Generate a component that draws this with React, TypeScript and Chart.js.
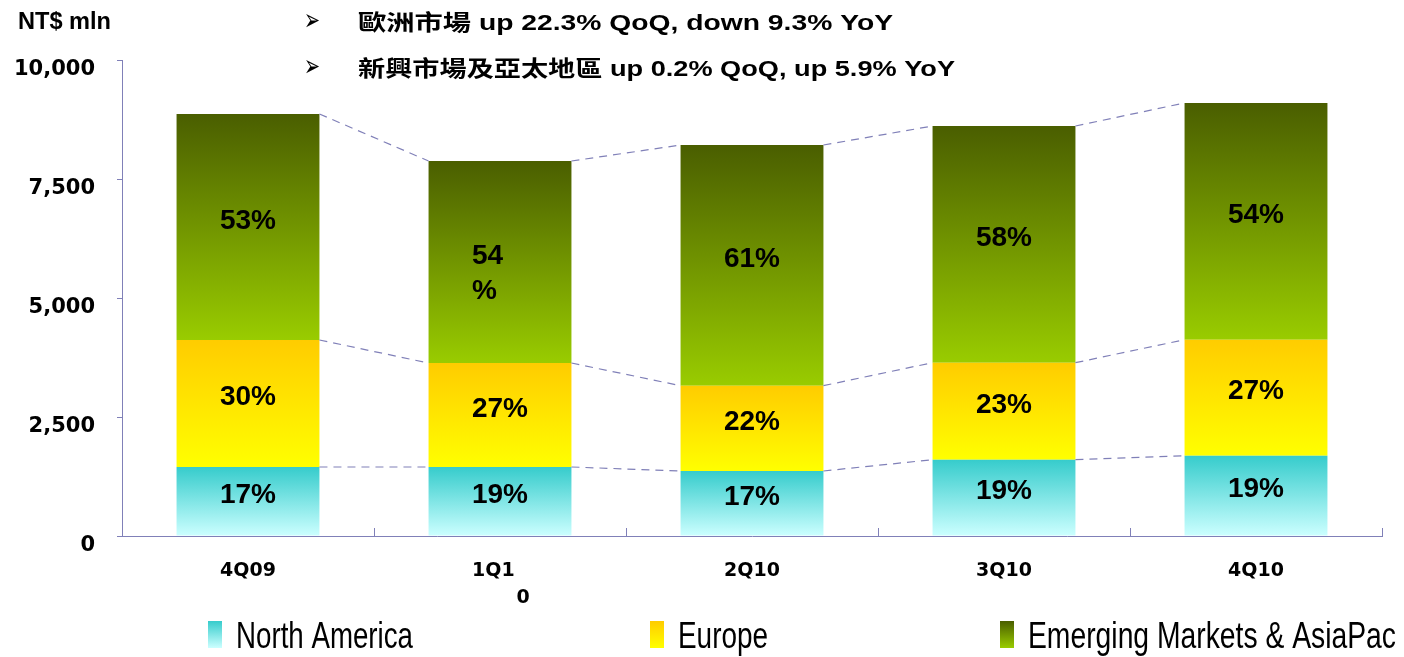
import React, { useEffect, useRef } from "react";
import { Chart, registerables } from "chart.js";

Chart.register(...registerables);

// ---- data ----
const categories = ["4Q09", "1Q10", "2Q10", "3Q10", "4Q10"];
const tickLabels: (string | string[])[] = ["4Q09", ["1Q1  ", "       0"], "2Q10", "3Q10", "4Q10"];
const seriesNames = ["North America", "Europe", "Emerging Markets & AsiaPac"];
const northAmerica = [1450, 1450, 1366, 1603, 1687];
const europe = [2668, 2184, 1792, 2038, 2437];
const emerging = [4748, 4244, 5056, 4972, 4973];
const naPct = ["17%", "19%", "17%", "19%", "19%"];
const euPct = ["30%", "27%", "22%", "23%", "27%"];
const emPct = ["53%", "54\n%", "61%", "58%", "54%"];
const yTicks = [0, 2500, 5000, 7500, 10000];
const unitLabel = "NT$ mln";
const notes = [
  "歐洲市場 up 22.3% QoQ, down 9.3% YoY",
  "新興市場及亞太地區 up 0.2% QoQ, up 5.9% YoY",
];

// ---- styles ----
const AXIS = "#8080b8";
const GRADS = [
  ["#36CCCC", "#CCFFFF"],
  ["#FFCC00", "#FFFF00"],
  ["#4A5E00", "#99CC00"],
];
const PCTS = [naPct, euPct, emPct];

function fitText(ctx: CanvasRenderingContext2D, text: string, x: number, y: number, width: number) {
  const m = ctx.measureText(text).width;
  ctx.save();
  ctx.translate(x, y);
  ctx.scale(width / m, 1);
  ctx.fillText(text, 0, 0);
  ctx.restore();
}

function gradFor(si: number) {
  return (c: any) => {
    const chart = c.chart;
    const ys = chart.scales && chart.scales.y;
    if (c.dataIndex === undefined || !ys || !chart.chartArea) return GRADS[si][0];
    const i = c.dataIndex;
    let base = 0;
    for (let d = 0; d < si; d++) base += chart.data.datasets[d].data[i];
    const top = base + chart.data.datasets[si].data[i];
    const g = chart.ctx.createLinearGradient(0, ys.getPixelForValue(top), 0, ys.getPixelForValue(base));
    g.addColorStop(0, GRADS[si][0]);
    g.addColorStop(1, GRADS[si][1]);
    return g;
  };
}

const connectorPlugin = {
  id: "connectors",
  afterDatasetsDraw(chart: any) {
    const ctx = chart.ctx;
    ctx.save();
    ctx.strokeStyle = AXIS;
    ctx.lineWidth = 1.2;
    ctx.setLineDash([8, 6]);
    chart.data.datasets.forEach((_: any, d: number) => {
      const meta = chart.getDatasetMeta(d);
      for (let i = 0; i < meta.data.length - 1; i++) {
        const a = meta.data[i];
        const b = meta.data[i + 1];
        ctx.beginPath();
        ctx.moveTo(a.x + a.width / 2, a.y);
        ctx.lineTo(b.x - b.width / 2, b.y);
        ctx.stroke();
      }
    });
    ctx.restore();
  },
};

const pctPlugin = {
  id: "pctLabels",
  afterDatasetsDraw(chart: any) {
    const ctx = chart.ctx;
    ctx.save();
    ctx.fillStyle = "#000";
    ctx.font = 'bold 28px "Liberation Sans", Arial, sans-serif';
    ctx.textBaseline = "middle";
    chart.data.datasets.forEach((_: any, d: number) => {
      const meta = chart.getDatasetMeta(d);
      meta.data.forEach((el: any, i: number) => {
        const txt = PCTS[d][i];
        const mid = (el.y + el.base) / 2 - 6;
        const lines = txt.split("\n");
        if (lines.length === 1) {
          ctx.textAlign = "center";
          ctx.fillText(txt, el.x, mid);
        } else {
          const w = ctx.measureText(lines.join("")).width;
          ctx.textAlign = "left";
          const lh = 35;
          lines.forEach((ln: string, k: number) => {
            ctx.fillText(ln, el.x - w / 2, mid + k * lh);
          });
        }
      });
    });
    ctx.restore();
  },
};

const decorPlugin = {
  id: "decor",
  afterDraw(chart: any) {
    const ctx = chart.ctx;
    ctx.save();
    ctx.fillStyle = "#000";
    ctx.textAlign = "left";
    ctx.textBaseline = "alphabetic";
    // unit
    ctx.font = 'bold 23px "Liberation Sans", Arial, sans-serif';
    fitText(ctx, unitLabel, 18, 29, 93);
    // bullets & notes
    const noteY = [30, 76];
    const noteW = [535, 597];
    notes.forEach((n, k) => {
      ctx.font = 'bold 30px "DejaVu Sans", sans-serif';
      fitText(ctx, "➢", 304, noteY[k], 16);
      ctx.font = 'bold 22px "Liberation Sans", "Noto Sans CJK TC", sans-serif';
      fitText(ctx, n, 358, noteY[k], noteW[k]);
    });
    // legend
    const boxX = [208, 650, 1000];
    const textW = [177, 90, 368];
    chart.data.datasets.forEach((ds: any, d: number) => {
      const g = ctx.createLinearGradient(0, 621, 0, 648);
      g.addColorStop(0, GRADS[d][0]);
      g.addColorStop(1, GRADS[d][1]);
      ctx.fillStyle = g;
      ctx.fillRect(boxX[d], 621, 14, 27);
      ctx.fillStyle = "#000";
      ctx.font = '36px "Liberation Sans", Arial, sans-serif';
      fitText(ctx, ds.label, boxX[d] + 28, 648, textW[d]);
    });
    ctx.restore();
  },
};

export default function App() {
  const ref = useRef<HTMLCanvasElement | null>(null);
  useEffect(() => {
    if (!ref.current) return;
    const series = [northAmerica, europe, emerging];
    const chart = new Chart(ref.current, {
      type: "bar",
      data: {
        labels: categories,
        datasets: series.map((s, si) => ({
          label: seriesNames[si],
          data: s,
          backgroundColor: gradFor(si),
          borderWidth: 0,
          categoryPercentage: 1,
          barPercentage: 0.567,
        })),
      },
      options: {
        responsive: false,
        animation: false,
        layout: { padding: { left: 0, top: 60, right: 22, bottom: 0 } },
        plugins: { legend: { display: false }, tooltip: { enabled: false }, title: { display: false } },
        scales: {
          x: {
            stacked: true,
            grid: { display: true, offset: true, drawOnChartArea: false, drawTicks: true, tickLength: -8, color: AXIS },
            border: { display: true, color: AXIS, width: 1 },
            ticks: {
              color: "#000",
              font: { family: "DejaVu Sans", size: 19, weight: "bold", lineHeight: 1.45 },
              padding: 29,
              maxRotation: 0,
              autoSkip: false,
              callback: (_v: any, i: number) => tickLabels[i],
            },
            afterFit: (s: any) => {
              s.height = 121;
            },
          },
          y: {
            stacked: true,
            min: yTicks[0],
            max: yTicks[yTicks.length - 1],
            afterBuildTicks: (s: any) => {
              s.ticks = yTicks.map((v) => ({ value: v }));
            },
            ticks: {
              color: "#000",
              font: { family: "DejaVu Sans", size: 21, weight: "bold" },
              padding: 22,
              labelOffset: 10,
              callback: (v: any) => Number(v).toLocaleString("en-US"),
            },
            grid: { drawOnChartArea: false, drawTicks: true, tickLength: 5, color: AXIS },
            border: { display: true, color: AXIS, width: 1 },
            afterFit: (s: any) => {
              s.width = 122;
            },
          },
        },
      },
      plugins: [connectorPlugin, pctPlugin, decorPlugin],
    } as any);
    return () => chart.destroy();
  }, []);
  return (
    <canvas
      ref={ref}
      width={1404}
      height={657}
      style={{ position: "absolute", left: 0, top: 0, display: "block" }}
    />
  );
}
